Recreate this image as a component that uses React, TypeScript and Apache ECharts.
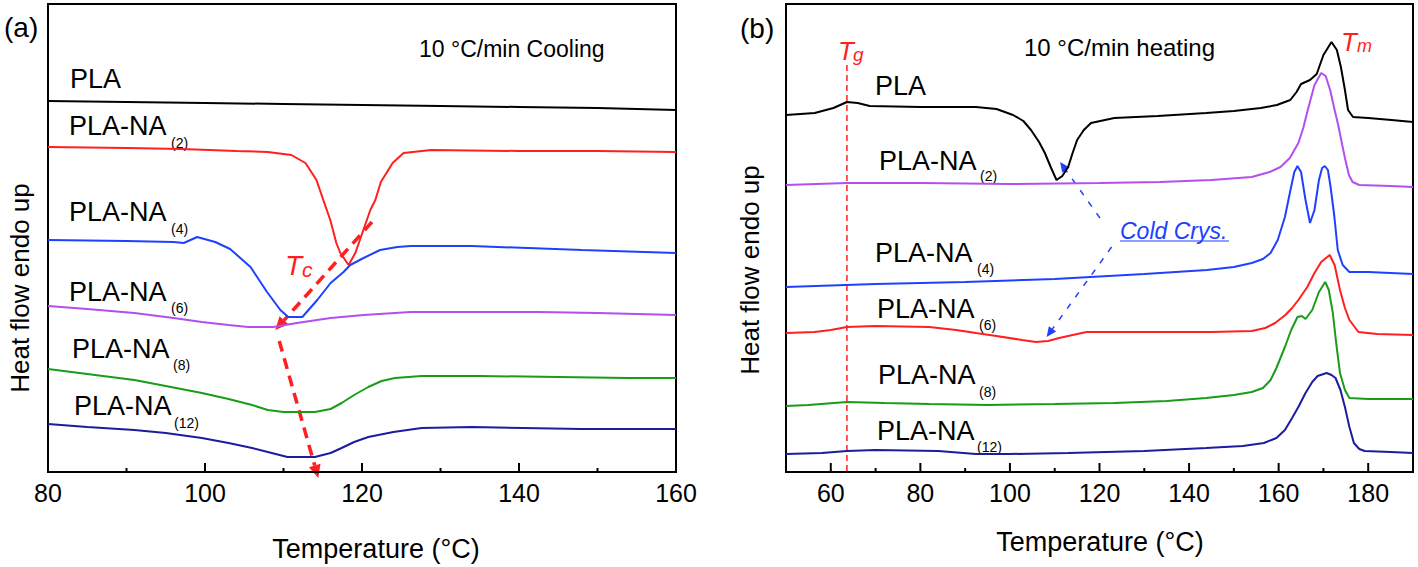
import { useEffect, useRef } from 'react';
import * as echarts from 'echarts';

const FONT = '"Liberation Sans", Arial, sans-serif';

// ---------- Panel (a): 10 °C/min cooling  [temperature °C, heat flow a.u. (endo up)] ----------
const coolPLA = [[80, 371], [90, 370], [100, 369], [110, 368], [120, 367], [130, 366], [140, 365], [150, 364], [160, 362]];
const coolNA2 = [[80, 325], [90, 324], [97, 323], [104, 321], [108, 320], [111, 317], [112.8, 309], [114.2, 292], [115.07, 272], [115.96, 252], [116.73, 229], [117.24, 219], [118.29, 207], [119.15, 219], [120.17, 242], [121.06, 262], [121.7, 272], [122.4, 290], [123.9, 309], [125.3, 319], [128.8, 322], [140, 321], [150, 321], [160, 320]];
const coolNA4 = [[80, 232], [90, 231], [96, 230], [97.3, 229], [99, 235], [101.3, 230], [103.2, 223], [105.8, 205], [107.9, 180], [109.6, 162], [110.6, 155], [112.4, 155], [114.3, 172], [116, 189], [117.65, 200], [118.5, 207], [120.2, 214], [122.3, 222], [124.5, 225], [126.2, 226], [134, 226], [148, 222], [160, 219]];
const coolNA6 = [[80, 166], [85, 163], [91, 159], [96, 154], [99.6, 150], [103, 147], [105.5, 145], [108.7, 145], [111.7, 149], [116, 154], [120.2, 157], [126.2, 160], [142.5, 160], [150, 159], [160, 157]];
const coolNA8 = [[80, 103], [85, 98], [91, 92], [95, 86], [99.6, 79], [103, 73], [106, 67], [108, 62], [110, 60], [114, 60], [116, 63], [117.4, 69], [119, 77], [120.8, 85], [122.5, 91], [124.2, 94], [127.6, 96], [135, 96], [145, 95], [153.9, 94], [160, 94]];
const coolNA12 = [[80, 48], [85, 45], [91, 42], [95, 39], [99.6, 34], [103, 29], [106, 24], [108.5, 19], [110.5, 15], [114, 15], [116, 19], [117.4, 24], [119, 30], [120.8, 35], [124, 40], [127.6, 44], [134, 45], [148, 43], [160, 43]];

// ---------- Panel (b): 10 °C/min heating ----------
const heatPLA = [[50, 357], [56.4, 359], [60.6, 364], [63.6, 370], [66, 369], [68.7, 366], [80, 365], [92.4, 365], [97, 363], [100.7, 357], [103, 351], [104.7, 342], [106.5, 330], [107.8, 319], [109.2, 304], [110.4, 292], [111.7, 296], [113, 305], [114, 319], [115, 332], [116.5, 342], [118.1, 349], [123.3, 354], [133, 356], [143.8, 359], [150, 361], [156, 364], [159.6, 367], [162.6, 372], [164, 380], [165, 388], [167, 392], [168.5, 398], [170, 417], [171.8, 430], [173, 422], [173.9, 405], [174.8, 382], [175.5, 362], [176.6, 355], [180, 354], [185.2, 352], [190, 350]];
const heatNA2 = [[50, 287], [63.6, 289], [80, 289], [100, 288], [120, 289], [133.5, 290], [145, 292], [154, 295], [158, 300], [160.4, 305], [162.5, 314], [164.4, 329], [165.5, 344], [166.5, 362], [168, 387], [169.5, 399], [170.5, 396], [171.5, 382], [172.5, 362], [173.3, 347], [174.2, 327], [174.9, 312], [175.7, 297], [176.5, 290], [178, 287], [185, 286], [190, 285]];
const heatNA4 = [[50, 185], [70, 188], [90, 190], [110, 193], [118, 195], [130, 198], [144, 202], [150, 205], [154, 209], [156.5, 213], [158.2, 219], [159.8, 232], [161.4, 255], [162.5, 279], [163.5, 300], [164.2, 306], [165, 300], [166, 272], [167, 249], [168, 262], [169, 292], [169.7, 304], [170.3, 306], [171, 302], [171.6, 285], [172.4, 257], [173.2, 222], [174.3, 207], [175.8, 200], [180, 200], [190, 198]];
const heatNA6 = [[50, 139], [56.4, 140], [60, 142], [63.6, 145], [70, 146], [82, 145], [88, 142], [92.4, 139], [97, 136], [102.7, 132], [105.8, 130], [108.5, 131], [111, 134], [114, 137], [117.1, 140], [130, 140], [145, 140], [154, 141], [157, 144], [159.2, 149], [161.5, 157], [163, 164], [164.4, 172], [166.4, 185], [168, 199], [169.5, 210], [171.4, 217], [172.5, 207], [173.7, 182], [174.8, 164], [175.8, 152], [177.8, 140], [182, 138], [190, 137]];
const heatNA8 = [[50, 66], [55, 67], [63.6, 70], [72, 69], [82, 68], [95, 67], [110, 68], [123.3, 69], [135, 71], [143.8, 74], [150, 77], [154, 80], [156.5, 84], [158.2, 92], [159.5, 104], [161.4, 125], [162.8, 142], [164.2, 155], [165.2, 156], [166, 153], [167.5, 162], [169, 180], [170.4, 190], [171.2, 182], [172.1, 159], [172.9, 127], [173.7, 99], [174.8, 82], [175.8, 74], [180, 73], [190, 73]];
const heatNA12 = [[50, 18], [58, 19], [63.6, 21], [70, 22], [84, 21], [92.4, 18], [100, 18], [113, 19], [130, 21], [143.8, 24], [152, 26], [156.7, 29], [159.5, 34], [161.4, 42], [163, 54], [164.4, 65], [166, 79], [167.5, 90], [168.7, 96], [170.7, 99], [171.8, 97], [172.7, 94], [173.8, 82], [174.8, 65], [175.8, 45], [176.8, 29], [178, 23], [179.2, 21], [185, 20], [190, 19]];

// ---------- Tick values ----------
const coolMajor = [80, 100, 120, 140, 160];
const coolMinor = [90, 110, 130, 150];
const heatMajor = [60, 80, 100, 120, 140, 160, 180];
const heatMinor = [70, 90, 110, 130, 150, 170];

// ---------- Annotation anchors (data coordinates) ----------
const tcArrow1 = [[121.27, 250], [108.96, 142]];
const tcArrow2 = [[109.46, 131], [114.43, -6]];
const coldArrow1 = [[120.1, 254], [111.2, 310]];
const coldArrow2 = [[122.7, 225], [108.2, 135]];
const tgLine = [[63.6, 407], [63.6, 0]];

const C_BLACK = '#000000';
const C_RED = '#ff1f1f';
const C_BLUE = '#2040ff';
const C_PURPLE = '#b24ff0';
const C_GREEN = '#1a9c1a';
const C_NAVY = '#1c1c9e';

function xAxisCfg(grid: number, min: number, max: number, labels: number[]) {
  return {
    type: 'value', gridIndex: grid, min, max, position: 'bottom',
    axisLine: { show: true, onZero: false, lineStyle: { color: '#000', width: 2 } },
    axisTick: { show: false },
    axisLabel: { show: true, customValues: labels, fontSize: 25, color: '#000', fontFamily: FONT, margin: 8 },
    splitLine: { show: false },
  };
}

function line(name: string, data: number[][], color: string, xi: number, yi: number) {
  return {
    name, type: 'line', data, xAxisIndex: xi, yAxisIndex: yi,
    symbol: 'none', showSymbol: false, smooth: false, clip: false,
    lineStyle: { color, width: 2 }, itemStyle: { color }, silent: true,
  };
}

function txt(text: string, x: number, y: number, size: number, opts: any = {}) {
  return {
    type: 'text', x, y, rotation: opts.rotation || 0, silent: true,
    style: {
      text, fontSize: size, fontFamily: FONT, fontStyle: opts.italic ? 'italic' : 'normal',
      fill: opts.color || '#000', align: opts.align || 'left', verticalAlign: 'middle',
    },
  };
}

export default function App() {
  const ref = useRef<HTMLDivElement>(null);
  useEffect(() => {
    if (!ref.current) return;
    const chart = echarts.init(ref.current, null, { renderer: 'svg' });
    const option: any = {
      animation: false,
      backgroundColor: '#fff',
      grid: [
        { left: 48, top: 4, width: 628, height: 468, show: true, borderColor: '#000', borderWidth: 2, backgroundColor: 'transparent' },
        { left: 786, top: 4, width: 627, height: 468, show: true, borderColor: '#000', borderWidth: 2, backgroundColor: 'transparent' },
      ],
      xAxis: [
        xAxisCfg(0, 80, 160, coolMajor),
        xAxisCfg(1, 50, 190, heatMajor),
      ],
      yAxis: [
        { type: 'value', gridIndex: 0, min: 0, max: 468, show: false },
        { type: 'value', gridIndex: 1, min: 0, max: 468, show: false },
      ],
      series: [
        line('PLA', coolPLA, C_BLACK, 0, 0),
        line('PLA-NA(2)', coolNA2, C_RED, 0, 0),
        line('PLA-NA(4)', coolNA4, C_BLUE, 0, 0),
        line('PLA-NA(6)', coolNA6, C_PURPLE, 0, 0),
        line('PLA-NA(8)', coolNA8, C_GREEN, 0, 0),
        line('PLA-NA(12)', coolNA12, C_NAVY, 0, 0),
        line('PLA', heatPLA, C_BLACK, 1, 1),
        line('PLA-NA(2)', heatNA2, C_PURPLE, 1, 1),
        line('PLA-NA(4)', heatNA4, C_BLUE, 1, 1),
        line('PLA-NA(6)', heatNA6, C_RED, 1, 1),
        line('PLA-NA(8)', heatNA8, C_GREEN, 1, 1),
        line('PLA-NA(12)', heatNA12, C_NAVY, 1, 1),
      ],
    };
    chart.setOption(option);

    const px = (g: number, p: number[]) => chart.convertToPixel({ gridIndex: g } as any, p) as number[];
    const arrow = (g: number, pts: number[][], color: string, width: number, dash: number[], headLen: number, headW: number) => {
      const a = px(g, pts[0]);
      const b = px(g, pts[1]);
      const dx = b[0] - a[0], dy = b[1] - a[1];
      const L = Math.hypot(dx, dy) || 1;
      const ux = dx / L, uy = dy / L;
      const bx = b[0] - ux * headLen, by = b[1] - uy * headLen;
      return [
        { type: 'line', silent: true, shape: { x1: a[0], y1: a[1], x2: bx, y2: by }, style: { stroke: color, lineWidth: width, lineDash: dash } },
        { type: 'polygon', silent: true, shape: { points: [[b[0], b[1]], [bx - uy * headW, by + ux * headW], [bx + uy * headW, by - ux * headW]] }, style: { fill: color } },
      ];
    };
    const ticks = (g: number, vals: number[], len: number) =>
      vals.map((v) => {
        const p = px(g, [v, 0]);
        return { type: 'line', silent: true, shape: { x1: p[0], y1: p[1], x2: p[0], y2: p[1] - len }, style: { stroke: '#000', lineWidth: 2 } };
      });
    const tg0 = px(1, tgLine[0]);
    const tg1 = px(1, tgLine[1]);

    const elements: any[] = [
      ...ticks(0, coolMajor, 9), ...ticks(0, coolMinor, 4),
      ...ticks(1, heatMajor, 9), ...ticks(1, heatMinor, 4),
      // panel (a)
      txt('(a)', 4, 27, 28),
      txt('10 °C/min Cooling', 419, 49, 23),
      txt('PLA', 70, 79, 27),
      txt('PLA-NA', 69, 126, 27), txt('(2)', 171, 143, 14),
      txt('PLA-NA', 69, 212, 27), txt('(4)', 171, 229, 14),
      txt('PLA-NA', 69, 292, 27), txt('(6)', 171, 308, 14),
      txt('PLA-NA', 72, 349, 27), txt('(8)', 173, 365, 14),
      txt('PLA-NA', 74, 406, 27), txt('(12)', 174, 423, 14),
      txt('T', 285, 265, 28, { italic: true, color: C_RED }),
      txt('c', 302, 269, 21, { italic: true, color: C_RED }),
      txt('Heat flow endo up', 20, 288, 26, { rotation: Math.PI / 2, align: 'center' }),
      txt('Temperature (°C)', 376, 549, 27, { align: 'center' }),
      // panel (b)
      txt('(b)', 740, 28, 28),
      txt('10 °C/min heating', 1024, 47, 24),
      txt('T', 838, 51, 26, { italic: true, color: C_RED }),
      txt('g', 853, 54, 19, { italic: true, color: C_RED }),
      txt('T', 1341, 42, 26, { italic: true, color: C_RED }),
      txt('m', 1357, 46, 18, { italic: true, color: C_RED }),
      txt('PLA', 875, 86, 27),
      txt('PLA-NA', 879, 161, 27), txt('(2)', 980, 176, 14),
      txt('PLA-NA', 875, 253, 27), txt('(4)', 977, 269, 14),
      txt('PLA-NA', 877, 309, 27), txt('(6)', 979, 325, 14),
      txt('PLA-NA', 878, 375, 27), txt('(8)', 979, 392, 14),
      txt('PLA-NA', 877, 431, 27), txt('(12)', 977, 447, 14),
      txt('Cold Crys.', 1120, 231, 23, { italic: true, color: C_BLUE }),
      { type: 'line', silent: true, shape: { x1: 1120, y1: 241, x2: 1229, y2: 241 }, style: { stroke: C_BLUE, lineWidth: 1.2 } },
      txt('Heat flow endo up', 750, 270, 26, { rotation: Math.PI / 2, align: 'center' }),
      txt('Temperature (°C)', 1100, 542, 27, { align: 'center' }),
      { type: 'line', silent: true, shape: { x1: tg0[0], y1: tg0[1], x2: tg1[0], y2: tg1[1] }, style: { stroke: C_RED, lineWidth: 1.5, lineDash: [6, 4] } },
      ...arrow(0, tcArrow1, C_RED, 3.5, [11, 7], 13, 6),
      ...arrow(0, tcArrow2, C_RED, 3.5, [11, 7], 13, 6),
      ...arrow(1, coldArrow1, C_BLUE, 1.5, [6, 8], 10, 4.5),
      ...arrow(1, coldArrow2, C_BLUE, 1.5, [6, 8], 10, 4.5),
    ];
    chart.setOption({ graphic: { elements } });

    return () => chart.dispose();
  }, []);
  return <div ref={ref} style={{ position: 'absolute', left: 0, top: 0, width: 1418, height: 567 }} />;
}
